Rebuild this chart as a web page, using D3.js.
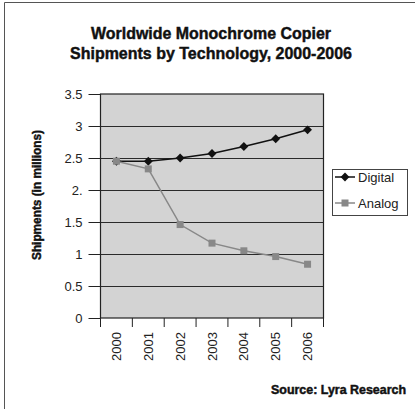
<!DOCTYPE html>
<html><head><meta charset="utf-8">
<script src="https://cdn.jsdelivr.net/npm/d3@7"></script>
<style>
html,body{margin:0;padding:0;background:#fff;}
svg{display:block;}
.cond{font-family:"Liberation Sans",Arial,sans-serif;font-weight:bold;stroke:#111;stroke-width:0.45px;}
.reg{font-family:"Liberation Sans",Arial,sans-serif;}
</style></head>
<body>
<script>
const years = ["2000","2001","2002","2003","2004","2005","2006"];
const digital = [2.45, 2.45, 2.50, 2.57, 2.68, 2.80, 2.94];
const analog = [2.45, 2.33, 1.46, 1.17, 1.05, 0.96, 0.84];
const yTicks = [0, 0.5, 1, 1.5, 2, 2.5, 3, 3.5];
const yTickLabels = ["0", "0.5", "1", "1.5", "2.", "2.5", "3", "3.5"];
const titleLines = ["Worldwide Monochrome Copier", "Shipments by Technology, 2000-2006"];
const titleWidths = [240, 282];

const W = 415, H = 409;
const svg = d3.select("body").append("svg").attr("width", W).attr("height", H);

// outer frame
svg.append("path").attr("d", `M4.5,${H} L4.5,2.5 L${W},2.5`).attr("fill","none").attr("stroke","#555").attr("stroke-width",1);

const L = 100.5, R = 323.5, T = 94, B = 318;
const x = d3.scaleBand().domain(years).range([L, R]);
const y = d3.scaleLinear().domain([0, 3.5]).range([B, T]);

// title
titleLines.forEach((t,i)=>{
  svg.append("text").attr("class","cond").attr("text-anchor","middle").attr("font-size",17).attr("fill","#111")
    .attr("x",211).attr("y",39+i*20).attr("textLength",titleWidths[i]).attr("lengthAdjust","spacingAndGlyphs").text(t);
});

// plot bg
svg.append("rect").attr("x",L).attr("y",T).attr("width",R-L).attr("height",B-T).attr("fill","#d3d3d3");

// gridlines
svg.append("g").selectAll("line").data(yTicks.filter(v=>v>0 && v<3.5)).join("line")
  .attr("x1",L).attr("x2",R).attr("y1",d=>Math.round(y(d))+0.5).attr("y2",d=>Math.round(y(d))+0.5)
  .attr("stroke","#2a2a2a").attr("stroke-width",1.2);

svg.append("rect").attr("x",L).attr("y",T).attr("width",R-L).attr("height",B-T).attr("fill","none").attr("stroke","#222").attr("stroke-width",1.2);

// y axis
const yAxis = d3.axisLeft(y).tickValues(yTicks).tickSize(12).tickPadding(6)
  .tickFormat((d,i)=> yTickLabels[i]);
const gy = svg.append("g").attr("transform",`translate(${L},0)`).call(yAxis);
gy.select(".domain").remove();
gy.selectAll(".tick line").attr("stroke","#222");
gy.selectAll(".tick text").attr("class","reg").attr("font-size",13).attr("fill","#222");

// x axis: ticks at band edges
const edges = years.map(d=>x(d)).concat([R]);
svg.append("g").selectAll("line").data(edges).join("line")
  .attr("x1",d=>d).attr("x2",d=>d).attr("y1",B).attr("y2",B+9).attr("stroke","#222");
svg.append("g").selectAll("text").data(years).join("text")
  .attr("class","reg").attr("font-size",13).attr("fill","#222")
  .attr("text-anchor","end").attr("dominant-baseline","central")
  .attr("transform",d=>`translate(${x(d)+x.bandwidth()/2},${B+14}) rotate(-90)`).text(d=>d);

// y title
svg.append("text").attr("class","cond").attr("font-size",13).attr("fill","#111").attr("text-anchor","middle")
  .attr("textLength",130).attr("lengthAdjust","spacingAndGlyphs")
  .attr("transform",`translate(41,195) rotate(-90)`).text("Shipments (in millions)");

const cx = d=>x(d)+x.bandwidth()/2;
const line = d3.line().x((d,i)=>cx(years[i])).y(d=>y(d));

// digital
svg.append("path").datum(digital).attr("d",line).attr("fill","none").attr("stroke","#111").attr("stroke-width",1.5);
const diamond = d3.symbol().type(d3.symbolDiamond2).size(50);
svg.append("g").selectAll("path").data(digital).join("path")
  .attr("d",diamond).attr("transform",(d,i)=>`translate(${cx(years[i])},${y(d)})`).attr("fill","#111");

// analog
svg.append("path").datum(analog).attr("d",line).attr("fill","none").attr("stroke","#888").attr("stroke-width",1.5);
svg.append("g").selectAll("rect").data(analog).join("rect")
  .attr("x",(d,i)=>cx(years[i])-3.5).attr("y",d=>y(d)-3.5).attr("width",7).attr("height",7).attr("fill","#888");

// legend
const lg = svg.append("g");
lg.append("rect").attr("x",332.5).attr("y",169.5).attr("width",75).attr("height",46).attr("fill","#fff").attr("stroke","#444");
const legendItems = [{name:"Digital", color:"#111", y:177},{name:"Analog", color:"#888", y:203}];
legendItems.forEach((it,i)=>{
  lg.append("line").attr("x1",335).attr("x2",355).attr("y1",it.y).attr("y2",it.y).attr("stroke",it.color).attr("stroke-width",1.5);
  if(i===0) lg.append("path").attr("d",diamond).attr("transform",`translate(345,${it.y})`).attr("fill",it.color);
  else lg.append("rect").attr("x",341.5).attr("y",it.y-3.5).attr("width",7).attr("height",7).attr("fill",it.color);
  lg.append("text").attr("class","reg").attr("font-size",13).attr("fill","#222").attr("x",358).attr("y",it.y).attr("dominant-baseline","central").text(it.name);
});

// source
svg.append("text").attr("class","cond").attr("font-size",12).attr("fill","#111").attr("text-anchor","end")
  .attr("x",406).attr("y",394).attr("textLength",135).attr("lengthAdjust","spacingAndGlyphs").text("Source: Lyra Research");
</script>
</body></html>
